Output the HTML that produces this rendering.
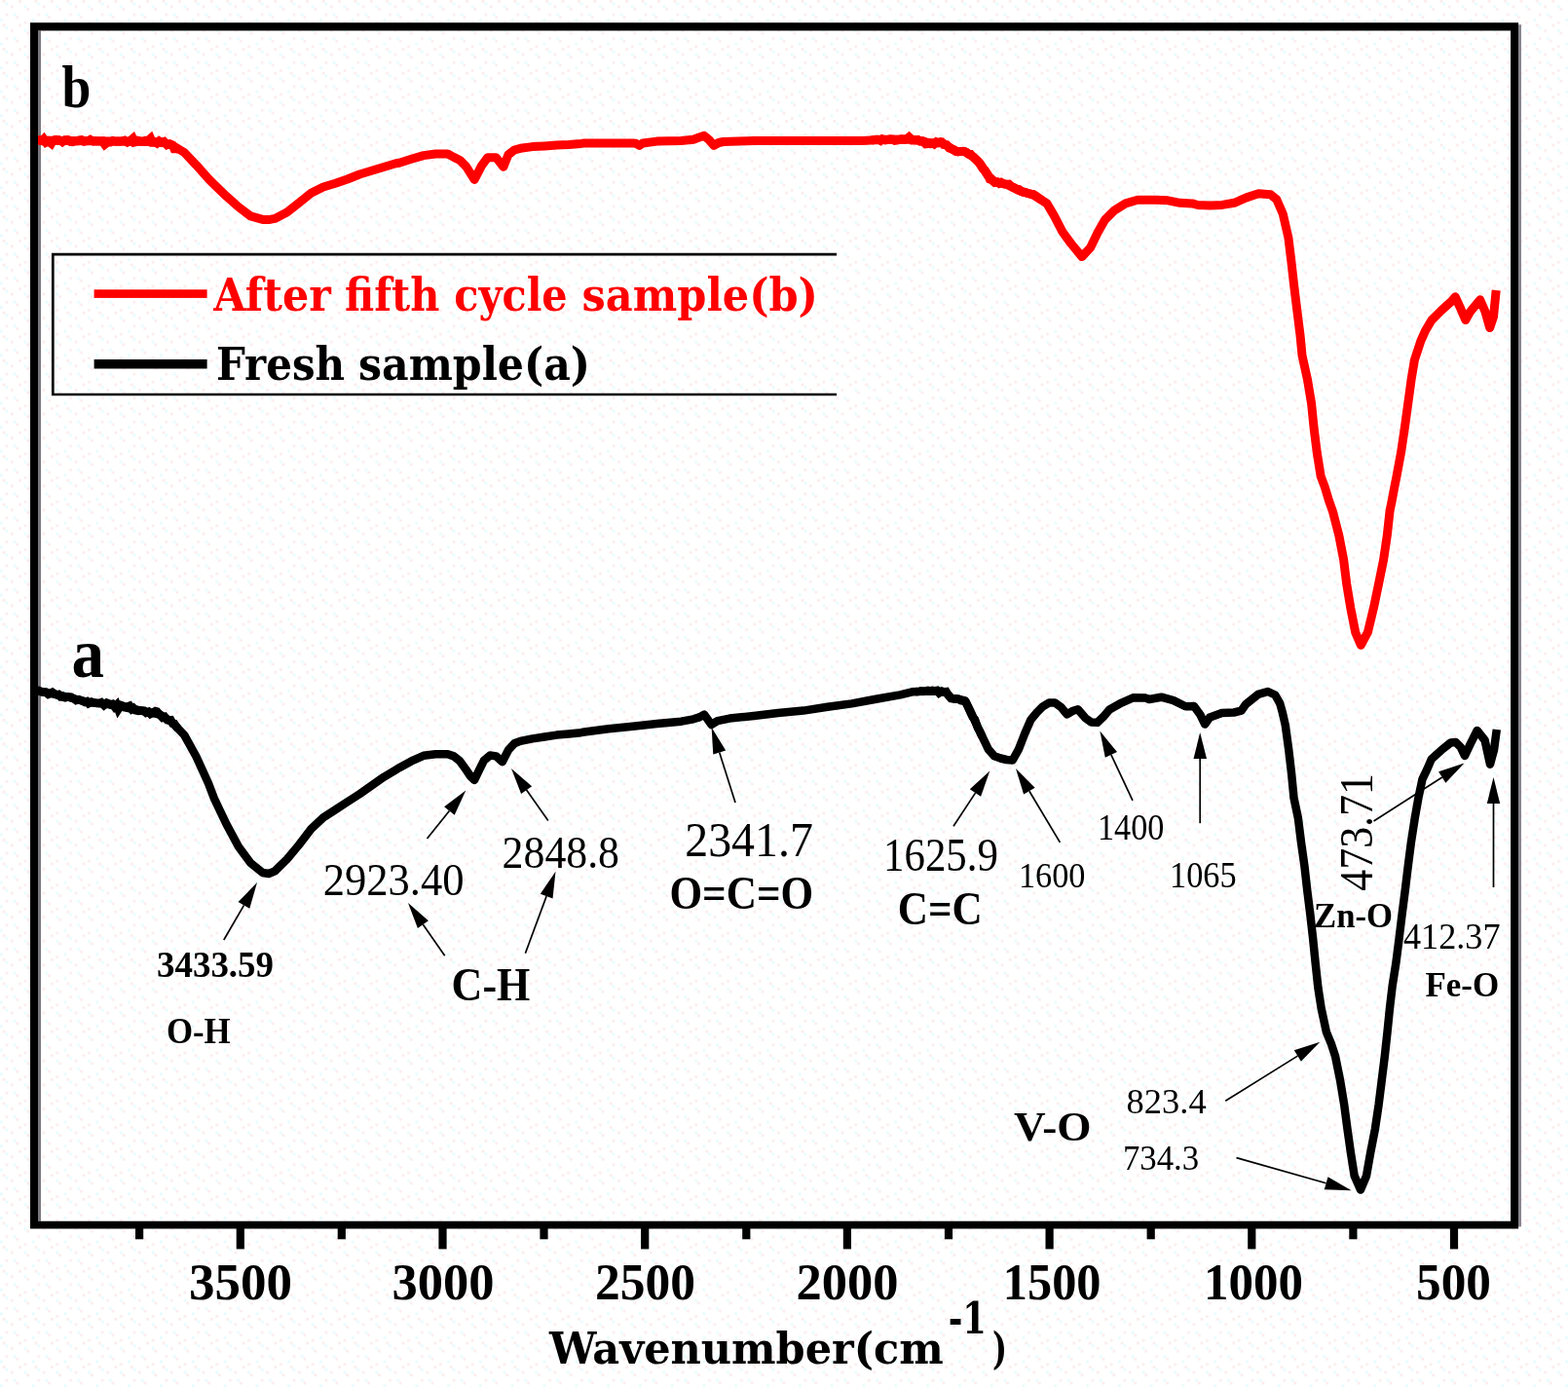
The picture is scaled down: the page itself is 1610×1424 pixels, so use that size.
<!DOCTYPE html>
<html lang="en">
<head>
<meta charset="utf-8">
<title>FTIR spectra</title>
<style>
html,body{margin:0;padding:0;background:#fefefe;}
body{width:1610px;height:1424px;overflow:hidden;}
svg{display:block;font-family:"Liberation Serif",serif;filter:blur(0.45px);}
</style>
</head>
<body>
<svg width="1610" height="1424" viewBox="0 0 1610 1424">
<defs><pattern id="dither" width="32.8" height="24.6" patternUnits="userSpaceOnUse"><rect width="32.8" height="24.6" fill="#ffffff"/><g fill="#fcecec"><rect x="2.7" y="0" width="2.7" height="2.7"/><rect x="19.1" y="0" width="2.7" height="2.7"/><rect x="10.9" y="5.5" width="2.7" height="2.7"/><rect x="27.3" y="8.2" width="2.7" height="2.7"/><rect x="5.5" y="13.7" width="2.7" height="2.7"/><rect x="16.4" y="16.4" width="2.7" height="2.7"/><rect x="24.6" y="21.9" width="2.7" height="2.7"/></g><g fill="#e6fcfd"><rect x="5.5" y="2.7" width="2.7" height="2.7"/><rect x="24.6" y="5.5" width="2.7" height="2.7"/><rect x="13.7" y="13.7" width="2.7" height="2.7"/><rect x="0" y="19.1" width="2.7" height="2.7"/></g></pattern></defs>
<rect x="0" y="0" width="1610" height="1424" fill="url(#dither)"/>
<rect x="39" y="31.6" width="3" height="1222.2" fill="#7b787f"/>
<rect x="1559.1" y="25.3" width="2.9" height="1234.1" fill="#8a8690"/>
<polyline points="37.0,144.1 64.9,144.6 89.7,144.7 114.6,145.0 139.4,145.3 164.3,145.7 176.7,149.0 189.2,156.5 201.6,169.6 214.0,183.5 220.0,189.5 232.4,201.4 244.9,212.5 257.3,221.9 269.7,225.4 275.9,225.6 282.2,224.4 294.6,218.1 307.0,208.2 319.4,198.3 331.9,192.0 344.3,188.3 356.7,184.0 369.2,179.0 381.6,175.3 394.0,171.5 406.5,167.8 410.0,167.2 422.4,163.3 434.9,159.6 447.3,158.0 459.7,158.0 465.9,161.4 472.2,164.5 478.4,170.7 487.1,184.4 494.5,170.1 500.7,161.8 509.4,161.8 516.9,171.3 521.9,158.9 528.1,154.0 534.3,152.3 546.7,150.6 559.2,149.9 571.6,149.0 584.0,148.4 596.5,147.4 600.0,147.0 649.7,147.0 653.0,147.3 656.6,149.4 660.0,147.0 674.6,145.1 699.4,144.5 711.9,143.3 718.0,141.0 723.0,139.4 728.0,143.5 733.0,149.4 738.0,146.5 742.9,145.5 774.0,144.5 798.9,144.5 860.0,144.4 884.9,144.4 909.7,143.3 934.6,143.0 947.0,144.6 955.7,147.7 965.7,145.6 974.4,150.9 981.8,155.6 990.5,155.6 999.2,160.8 1006.7,168.3 1014.1,180.0 1021.6,186.9 1034.0,189.4 1046.5,195.6 1058.9,199.5 1062.4,200.9 1074.9,208.9 1082.3,221.4 1091.0,238.1 1099.7,250.0 1110.9,263.6 1119.6,254.3 1127.1,238.8 1134.5,225.7 1144.5,215.8 1155.7,208.9 1168.1,205.2 1186.7,205.2 1199.2,205.8 1211.6,208.3 1224.0,208.9 1230.0,210.5 1242.4,211.0 1254.9,210.4 1267.3,208.3 1279.7,202.9 1292.2,198.8 1304.6,199.8 1310.8,204.8 1317.3,219.7 1323.0,244.6 1326.0,269.4 1328.8,294.3 1331.9,319.2 1335.0,344.0 1337.0,364.9 1342.5,389.7 1346.6,414.6 1349.1,439.4 1352.2,464.3 1356.2,489.2 1360.3,500.0 1364.5,514.0 1368.4,524.9 1374.8,549.7 1379.6,574.6 1382.7,599.4 1386.8,624.3 1391.7,649.2 1397.3,662.3 1404.4,649.2 1410.4,624.3 1415.6,599.4 1420.6,574.6 1424.3,549.7 1427.0,524.9 1429.2,514.0 1431.8,500.0 1434.0,489.2 1438.6,464.3 1442.3,439.4 1445.7,414.6 1449.1,389.6 1452.4,369.7 1458.9,349.8 1463.4,339.8 1469.9,328.8 1479.8,318.9 1489.8,309.9 1494.3,304.8 1499.8,316.9 1504.8,328.6 1509.7,319.9 1519.7,307.8 1525.0,320.0 1529.7,336.6 1533.5,325.0 1536.2,298.0" fill="none" stroke="#fe0000" stroke-width="9.0" stroke-linejoin="round" stroke-linecap="butt"/>
<polyline points="37.0,708.9 64.9,714.5 89.7,720.8 114.6,723.5 139.4,728.5 164.3,733.7 176.7,741.5 189.2,754.6 201.6,777.0 214.0,804.3 220.0,820.0 232.4,846.0 244.9,869.3 257.3,886.0 269.7,896.0 275.9,897.0 282.2,894.4 294.6,882.3 307.0,867.4 319.4,851.2 331.9,839.4 344.3,831.4 356.7,823.3 369.2,815.2 381.6,806.5 394.0,797.8 406.5,790.3 410.0,788.2 422.4,781.4 434.9,775.8 447.3,774.3 459.7,774.3 465.9,776.4 472.2,781.4 478.4,790.0 483.5,797.5 487.1,800.9 492.0,790.7 497.0,780.7 503.2,775.5 509.4,776.4 515.7,782.2 521.9,770.2 528.1,763.3 534.3,760.9 546.7,758.4 559.2,756.5 571.6,754.6 584.0,753.4 596.5,752.2 600.0,751.5 624.9,748.2 649.7,745.7 674.6,743.0 699.4,740.7 711.9,738.3 718.1,736.4 723.0,733.6 730.5,744.0 736.7,740.1 749.2,737.6 774.0,734.9 798.9,732.0 824.9,729.6 849.7,725.8 874.6,722.4 899.4,717.7 924.3,713.4 936.7,710.3 949.2,709.8 961.6,709.5 971.5,710.7 976.5,716.5 986.5,718.4 991.0,719.5 996.2,729.7 1002.4,743.3 1008.6,756.4 1014.9,769.4 1021.1,776.3 1027.3,778.5 1033.5,780.0 1039.7,780.5 1045.9,769.4 1052.2,753.3 1058.4,739.0 1064.6,731.5 1070.8,725.3 1077.0,721.6 1083.2,721.6 1089.4,725.9 1095.7,733.4 1101.9,729.7 1106.8,728.2 1114.3,737.1 1120.5,741.5 1126.7,741.8 1132.9,735.9 1139.2,728.4 1151.6,721.6 1164.0,716.2 1176.5,716.6 1180.0,718.0 1192.4,715.7 1204.9,719.1 1217.3,725.3 1226.0,725.0 1232.2,733.4 1237.2,743.6 1242.2,736.5 1254.6,731.9 1267.0,731.5 1274.5,729.7 1279.4,722.8 1291.9,712.9 1301.8,710.0 1309.3,713.5 1314.2,722.2 1317.0,732.2 1319.8,744.6 1323.2,769.4 1326.1,794.3 1328.5,819.2 1332.9,840.0 1336.0,864.9 1339.5,889.7 1342.3,914.6 1345.4,939.4 1348.2,964.3 1350.7,989.2 1353.4,1014.0 1356.6,1034.9 1361.9,1059.7 1367.1,1072.2 1371.1,1084.6 1376.1,1109.4 1380.2,1134.3 1383.5,1159.2 1387.0,1184.0 1390.7,1207.3 1397.0,1221.5 1403.0,1207.3 1407.1,1184.0 1411.9,1159.2 1415.6,1134.3 1418.7,1109.4 1421.8,1084.6 1424.5,1059.7 1427.0,1034.9 1429.7,1012.0 1433.3,989.2 1436.5,964.3 1439.5,939.4 1442.7,914.6 1445.7,889.7 1448.9,864.9 1452.8,839.6 1456.3,819.7 1460.5,799.8 1465.3,789.8 1469.8,779.3 1479.8,770.3 1489.7,762.4 1494.7,761.9 1499.7,766.9 1504.0,776.0 1509.7,763.9 1516.7,750.0 1524.6,760.0 1530.0,784.7 1534.0,770.0 1536.8,749.0" fill="none" stroke="#000" stroke-width="8.5" stroke-linejoin="round" stroke-linecap="butt"/>
<polyline points="38.0,144.0 40.8,143.8 43.1,144.6 44.9,142.8 47.2,146.2 49.5,145.0 52.6,147.3 54.2,144.5 56.5,143.6 58.1,143.6 60.5,143.7 62.4,144.4 64.1,145.6 66.7,143.7 69.7,143.5 72.4,145.3 74.7,145.6 76.8,144.9 79.8,144.7 81.4,143.9 83.7,143.7 86.4,145.2 88.7,144.7 91.1,144.4 92.8,143.4 96.0,145.1 97.8,144.8 100.7,145.0 102.6,144.9 105.2,144.8 107.6,148.2 110.5,145.9 113.3,145.9 115.8,144.5 118.8,145.3 121.2,145.0 123.3,145.2 125.9,144.8 127.9,144.2 130.8,146.1 133.8,144.5 136.4,142.3 138.1,146.1 139.8,145.7 141.5,144.3 143.4,144.7 145.7,144.9 147.4,145.1 149.3,144.3 151.7,144.6 154.6,142.1 156.4,146.2 159.2,146.2 161.1,147.1 163.5,144.9 165.8,146.3 168.4,145.5 171.5,148.8 174.5,147.8 177.3,149.1 178.9,152.8 181.8,152.8 183.7,153.5" fill="none" stroke="#fe0000" stroke-width="9.0" stroke-linejoin="miter" stroke-miterlimit="6" stroke-linecap="butt"/>
<polyline points="895.0,144.0 897.2,143.6 899.4,143.3 902.1,143.2 904.2,144.3 905.9,142.9 909.0,143.9 911.0,143.6 914.1,142.9 916.8,143.2 918.7,144.3 920.6,144.0 923.4,143.3 925.6,142.8 928.6,143.3 931.6,142.3 933.4,140.8 936.4,143.8 938.5,143.7 940.7,143.9 942.5,143.5 945.0,145.2 947.0,145.2 948.6,146.0 950.4,147.7 952.4,147.5 954.2,146.5 957.0,146.6 959.2,147.9 961.3,146.0 963.0,146.9 964.6,146.8 967.2,146.4 968.9,148.4 972.0,148.7 974.6,152.0 977.3,153.1 979.8,153.9 981.5,155.0 983.8,155.9 986.9,155.4 989.1,155.2 992.1,156.2 994.6,158.2 996.6,158.3 998.3,160.5 1000.0,161.9 1002.9,164.4 1004.7,166.3 1006.4,168.9 1009.3,173.3 1011.4,174.9 1014.5,179.9 1016.3,184.0 1018.4,184.8 1021.4,187.4 1024.1,186.8 1026.0,188.2 1028.0,187.3 1030.9,188.9 1033.9,189.3 1036.0,189.2 1038.6,191.5 1040.3,192.3 1042.1,193.0 1044.4,194.3 1046.3,194.5 1048.7,196.6 1051.4,197.6 1053.8,197.9 1056.1,198.7 1059.2,199.2 1060.8,199.4 1063.8,201.2 1066.9,203.5 1069.8,205.6" fill="none" stroke="#fe0000" stroke-width="9.0" stroke-linejoin="miter" stroke-miterlimit="6" stroke-linecap="butt"/>
<polyline points="38.0,709.3 39.7,709.0 42.5,710.4 45.0,710.8 46.9,710.7 49.6,712.9 52.1,711.8 53.8,710.8 55.9,712.3 58.3,713.4 60.0,713.0 62.4,715.5 64.3,715.6 67.0,716.3 69.9,715.3 73.0,715.6 75.8,717.2 78.2,719.1 81.1,718.2 84.1,719.3 87.2,720.8 89.2,720.1 91.0,722.2 94.1,720.7 96.8,721.6 99.5,722.1 101.4,722.1 104.0,721.1 106.8,723.9 109.6,721.6 111.6,722.4 113.4,723.4 115.4,722.8 117.6,725.7 119.8,723.6 121.5,728.2 124.3,724.0 127.2,725.0 129.9,725.8 133.1,724.7 135.3,728.0 137.0,726.9 139.4,729.3 142.4,729.9 145.1,729.6 147.8,729.7 150.1,731.9 152.6,730.9 154.5,733.0 157.0,731.6 159.5,730.1 161.2,730.6 163.8,733.6 166.9,736.8 169.2,736.0 171.8,739.3 173.8,739.5 175.4,739.3 177.2,742.7 179.0,743.0 180.9,745.9 183.0,748.3" fill="none" stroke="#000" stroke-width="8.5" stroke-linejoin="miter" stroke-miterlimit="6" stroke-linecap="butt"/>
<polyline points="940.0,710.3 942.3,710.1 944.0,709.9 945.9,709.4 948.1,709.9 950.6,709.4 952.8,708.9 954.6,709.4 957.3,708.8 959.5,709.5 962.1,708.9 964.3,711.5 967.1,709.7 969.3,710.4 971.5,710.1 973.3,713.3 976.4,717.1 979.0,717.4 981.4,717.2 984.3,717.6 986.7,719.2 989.8,719.7 991.7,720.9 994.0,725.7 996.6,731.7 998.7,736.1 1001.0,738.6 1004.0,747.5 1005.8,750.4 1008.5,756.3" fill="none" stroke="#000" stroke-width="8.5" stroke-linejoin="miter" stroke-miterlimit="6" stroke-linecap="butt"/>
<path fill-rule="evenodd" fill="#000" d="M31,23.3H1559.1V1261.4H31Z M39,31.6V1253.8H1551.1V31.6Z"/>
<rect x="242.7" y="1260.4" width="8.2" height="22.0" fill="#000"/>
<rect x="450.4" y="1260.4" width="8.2" height="22.0" fill="#000"/>
<rect x="658.1" y="1260.4" width="8.2" height="22.0" fill="#000"/>
<rect x="865.8" y="1260.4" width="8.2" height="22.0" fill="#000"/>
<rect x="1073.5" y="1260.4" width="8.2" height="22.0" fill="#000"/>
<rect x="1281.2" y="1260.4" width="8.2" height="22.0" fill="#000"/>
<rect x="1488.9" y="1260.4" width="8.2" height="22.0" fill="#000"/>
<rect x="139.0" y="1260.4" width="8.2" height="11.9" fill="#000"/>
<rect x="346.7" y="1260.4" width="8.2" height="11.9" fill="#000"/>
<rect x="554.4" y="1260.4" width="8.2" height="11.9" fill="#000"/>
<rect x="762.2" y="1260.4" width="8.2" height="11.9" fill="#000"/>
<rect x="969.9" y="1260.4" width="8.2" height="11.9" fill="#000"/>
<rect x="1177.6" y="1260.4" width="8.2" height="11.9" fill="#000"/>
<rect x="1385.3" y="1260.4" width="8.2" height="11.9" fill="#000"/>
<path d="M859,261.2 H54.3 V405 H859" fill="none" stroke="#000" stroke-width="2.7"/><rect x="96.6" y="297.3" width="116" height="8.6" fill="#fe0000"/><rect x="96.6" y="369" width="116" height="9.5" fill="#000"/>
<line x1="229.8" y1="965.0" x2="250.5" y2="929.4" stroke="#000" stroke-width="1.7"/><polygon points="264.0,906.0 256.3,932.7 244.6,926.0" fill="#000"/>
<line x1="438.5" y1="861.0" x2="461.4" y2="832.5" stroke="#000" stroke-width="1.7"/><polygon points="478.3,811.4 466.7,836.7 456.1,828.2" fill="#000"/>
<line x1="562.8" y1="842.5" x2="540.6" y2="811.1" stroke="#000" stroke-width="1.7"/><polygon points="525.0,789.0 546.1,807.2 535.1,814.9" fill="#000"/>
<line x1="755.0" y1="823.9" x2="738.7" y2="772.5" stroke="#000" stroke-width="1.7"/><polygon points="730.6,746.8 745.2,770.5 732.3,774.6" fill="#000"/>
<line x1="456.7" y1="981.3" x2="434.4" y2="949.2" stroke="#000" stroke-width="1.7"/><polygon points="419.0,927.0 439.9,945.3 428.9,953.0" fill="#000"/>
<line x1="539.4" y1="978.8" x2="561.1" y2="920.1" stroke="#000" stroke-width="1.7"/><polygon points="570.5,894.8 567.5,922.5 554.8,917.8" fill="#000"/>
<line x1="979.0" y1="848.2" x2="1001.5" y2="814.1" stroke="#000" stroke-width="1.7"/><polygon points="1016.3,791.5 1007.1,817.8 995.8,810.3" fill="#000"/>
<line x1="1088.4" y1="864.9" x2="1056.9" y2="812.2" stroke="#000" stroke-width="1.7"/><polygon points="1043.0,789.0 1062.7,808.7 1051.1,815.6" fill="#000"/>
<line x1="1163.0" y1="821.9" x2="1140.9" y2="774.9" stroke="#000" stroke-width="1.7"/><polygon points="1129.4,750.5 1147.0,772.1 1134.8,777.8" fill="#000"/>
<line x1="1232.2" y1="845.2" x2="1232.2" y2="779.0" stroke="#000" stroke-width="1.7"/><polygon points="1232.2,752.0 1239.0,779.0 1225.5,779.0" fill="#000"/>
<line x1="1410.5" y1="843.0" x2="1480.8" y2="798.0" stroke="#000" stroke-width="1.7"/><polygon points="1503.5,783.4 1484.4,803.7 1477.1,792.3" fill="#000"/>
<line x1="1533.5" y1="911.0" x2="1533.5" y2="825.0" stroke="#000" stroke-width="1.7"/><polygon points="1533.5,798.0 1540.2,825.0 1526.8,825.0" fill="#000"/>
<line x1="1258.3" y1="1130.2" x2="1332.4" y2="1084.1" stroke="#000" stroke-width="1.7"/><polygon points="1355.3,1069.8 1335.9,1089.8 1328.8,1078.3" fill="#000"/>
<line x1="1269.5" y1="1188.6" x2="1361.6" y2="1214.8" stroke="#000" stroke-width="1.7"/><polygon points="1387.6,1222.2 1359.8,1221.3 1363.5,1208.3" fill="#000"/>
<text font-family='"DejaVu Serif Condensed","DejaVu Serif","Liberation Serif",serif' font-stretch="condensed" font-size="47.19" font-weight="bold" fill="#fe0000" xml:space="preserve"><tspan x="219.33" y="319.30" textLength="120.41" lengthAdjust="spacingAndGlyphs">After</tspan> <tspan x="354.10" y="319.30" textLength="97.39" lengthAdjust="spacingAndGlyphs">fifth</tspan> <tspan x="466.20" y="319.30" textLength="116.49" lengthAdjust="spacingAndGlyphs">cycle</tspan> <tspan x="597.60" y="319.30" textLength="242.40" lengthAdjust="spacingAndGlyphs">sample(b)</tspan></text>
<text font-family='"DejaVu Serif Condensed","DejaVu Serif","Liberation Serif",serif' font-stretch="condensed" font-size="47.19" font-weight="bold" fill="#000" xml:space="preserve"><tspan x="222.00" y="389.90" textLength="132.11" lengthAdjust="spacingAndGlyphs">Fresh</tspan> <tspan x="368.00" y="389.90" textLength="238.00" lengthAdjust="spacingAndGlyphs">sample(a)</tspan></text>
<text font-family='"DejaVu Serif Condensed","DejaVu Serif","Liberation Serif",serif' font-stretch="condensed" font-size="43.90" font-weight="bold" fill="#000" xml:space="preserve"><tspan x="564.08" y="1400.00" textLength="404.71" lengthAdjust="spacingAndGlyphs">Wavenumber(cm</tspan><tspan x="973.70" y="1369.30" textLength="39.28" lengthAdjust="spacingAndGlyphs">-1</tspan><tspan x="1019.00" y="1400.00" textLength="14.99" lengthAdjust="spacingAndGlyphs">)</tspan></text>
<text transform="translate(63.40,109.99) scale(0.8824,1)" font-size="60.85" font-weight="bold" fill="#000" textLength="33.84" lengthAdjust="spacingAndGlyphs">b</text>
<text transform="translate(73.50,695.07) scale(0.9241,1)" font-size="72.50" font-weight="bold" fill="#000" textLength="36.25" lengthAdjust="spacingAndGlyphs">a</text>
<text transform="translate(194.00,1334.48) scale(1.0221,1)" font-size="51.85" font-weight="bold" fill="#000" textLength="103.70" lengthAdjust="spacingAndGlyphs">3500</text>
<text transform="translate(402.50,1334.48) scale(1.0125,1)" font-size="51.85" font-weight="bold" fill="#000" textLength="103.70" lengthAdjust="spacingAndGlyphs">3000</text>
<text transform="translate(611.00,1334.48) scale(0.9932,1)" font-size="51.85" font-weight="bold" fill="#000" textLength="103.70" lengthAdjust="spacingAndGlyphs">2500</text>
<text transform="translate(817.50,1334.48) scale(1.0125,1)" font-size="51.85" font-weight="bold" fill="#000" textLength="103.70" lengthAdjust="spacingAndGlyphs">2000</text>
<text transform="translate(1029.80,1334.48) scale(0.9710,1)" font-size="51.85" font-weight="bold" fill="#000" textLength="103.70" lengthAdjust="spacingAndGlyphs">1500</text>
<text transform="translate(1236.00,1334.48) scale(0.9836,1)" font-size="51.85" font-weight="bold" fill="#000" textLength="103.70" lengthAdjust="spacingAndGlyphs">1000</text>
<text transform="translate(1454.00,1334.48) scale(0.9900,1)" font-size="51.85" font-weight="bold" fill="#000" textLength="77.78" lengthAdjust="spacingAndGlyphs">500</text>
<text transform="translate(161.00,1003.15) scale(1.0009,1)" font-size="36.89" font-weight="bold" fill="#000" textLength="119.89" lengthAdjust="spacingAndGlyphs">3433.59</text>
<text transform="translate(170.90,1070.91) scale(0.8937,1)" font-size="38.96" font-weight="bold" fill="#000" textLength="73.57" lengthAdjust="spacingAndGlyphs">O-H</text>
<text transform="translate(331.70,919.01) scale(0.9748,1)" font-size="45.74" font-weight="normal" fill="#000" textLength="148.64" lengthAdjust="spacingAndGlyphs">2923.40</text>
<text transform="translate(463.60,1027.32) scale(0.9134,1)" font-size="48.21" font-weight="bold" fill="#000" textLength="88.37" lengthAdjust="spacingAndGlyphs">C-H</text>
<text transform="translate(515.60,891.29) scale(0.9304,1)" font-size="47.06" font-weight="normal" fill="#000" textLength="129.41" lengthAdjust="spacingAndGlyphs">2848.8</text>
<text transform="translate(703.30,879.05) scale(0.9549,1)" font-size="50.07" font-weight="normal" fill="#000" textLength="137.70" lengthAdjust="spacingAndGlyphs">2341.7</text>
<text transform="translate(687.40,932.82) scale(0.8970,1)" font-size="48.21" font-weight="bold" fill="#000" textLength="164.75" lengthAdjust="spacingAndGlyphs">O=C=O</text>
<text transform="translate(907.00,893.98) scale(0.8967,1)" font-size="47.85" font-weight="normal" fill="#000" textLength="131.59" lengthAdjust="spacingAndGlyphs">1625.9</text>
<text transform="translate(921.80,948.92) scale(0.8928,1)" font-size="48.36" font-weight="bold" fill="#000" textLength="97.40" lengthAdjust="spacingAndGlyphs">C=C</text>
<text transform="translate(1046.00,910.55) scale(0.9755,1)" font-size="35.11" font-weight="normal" fill="#000" textLength="70.22" lengthAdjust="spacingAndGlyphs">1600</text>
<text transform="translate(1127.00,862.01) scale(0.8832,1)" font-size="38.67" font-weight="normal" fill="#000" textLength="77.33" lengthAdjust="spacingAndGlyphs">1400</text>
<text transform="translate(1201.00,910.61) scale(0.8892,1)" font-size="38.52" font-weight="normal" fill="#000" textLength="77.04" lengthAdjust="spacingAndGlyphs">1065</text>
<text transform="translate(1409.28,914.80) rotate(-90) scale(0.9152,1)" font-size="48.00" font-weight="normal" fill="#000" textLength="132.00" lengthAdjust="spacingAndGlyphs">473.71</text>
<text transform="translate(1349.00,951.65) scale(0.9890,1)" font-size="35.07" font-weight="bold" fill="#000" textLength="81.86" lengthAdjust="spacingAndGlyphs">Zn-O</text>
<text transform="translate(1441.00,973.95) scale(0.9808,1)" font-size="36.89" font-weight="normal" fill="#000" textLength="101.44" lengthAdjust="spacingAndGlyphs">412.37</text>
<text transform="translate(1463.40,1022.95) scale(0.9940,1)" font-size="35.22" font-weight="bold" fill="#000" textLength="76.28" lengthAdjust="spacingAndGlyphs">Fe-O</text>
<text transform="translate(1041.00,1170.78) scale(1.0864,1)" font-size="41.63" font-weight="bold" fill="#000" textLength="73.22" lengthAdjust="spacingAndGlyphs">V-O</text>
<text transform="translate(1156.60,1142.75) scale(0.9965,1)" font-size="36.62" font-weight="normal" fill="#000" textLength="82.39" lengthAdjust="spacingAndGlyphs">823.4</text>
<text transform="translate(1152.90,1201.47) scale(0.9787,1)" font-size="35.56" font-weight="normal" fill="#000" textLength="80.00" lengthAdjust="spacingAndGlyphs">734.3</text>
</svg>
</body>
</html>
